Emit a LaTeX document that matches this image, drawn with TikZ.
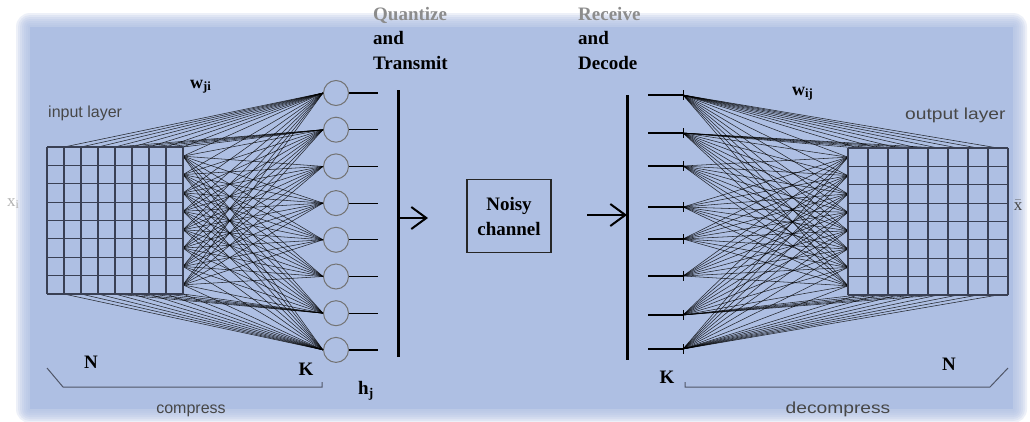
\documentclass[tikz,border=0pt]{standalone}
\usepackage{fontspec}
\setmainfont{Liberation Serif}
\setsansfont{Liberation Sans}
\usetikzlibrary{arrows.meta}
\definecolor{bgblue}{RGB}{174,191,227}
\definecolor{gridc}{RGB}{58,64,84}
\definecolor{brk}{RGB}{80,86,104}
\tikzset{
  wire/.style={black, line width=0.55pt, opacity=0.8},
  gridline/.style={gridc, line width=1.2pt},
  hid/.style={circle, draw=black!55, line width=1pt, minimum size=25pt, inner sep=0pt},
  outwire/.style={black, line width=1.2pt},
  barline/.style={black, line width=3pt},
  bigarrow/.style={black, line width=2pt, -{Straight Barb[length=15pt,width=22pt,line width=2pt]}},
  big/.style={font=\bfseries\fontsize{19}{24}\selectfont, inner sep=0pt},
  sans/.style={font=\sffamily\fontsize{16}{19}\selectfont, text=black!72, inner sep=0pt},
  brace/.style={brk, line width=1pt},
}
\begin{document}
\begin{tikzpicture}[x=1pt,y=-1pt]
\useasboundingbox (0,0) rectangle (1030,421);
% background with soft edges
\fill[white] (0,0) rectangle (1030,421);
\foreach \r in {14,12,...,2}
  \fill[bgblue, opacity=0.22, rounded corners=\r pt] (30-\r,27-\r) rectangle (1013+\r,409+\r);
\fill[bgblue] (30,27) rectangle (1013,409);

% ---------- left network ----------
\foreach \j in {1,...,8}
  \node[hid] (h\j) at (336,{93+(\j-1)*36.7}) {};
\foreach \i in {1,...,8} {
  \coordinate (L\i) at (183,{147+(\i-0.5)*18.375});
  \coordinate (LT\i) at ({47+\i*17},147);
  \coordinate (LB\i) at ({47+\i*17},294);
}
\foreach \i in {1,...,8}
  \foreach \j in {1,...,8}
    \draw[wire] (L\i) -- (h\j.west);
\foreach \i in {1,...,8} {
  \draw[wire] (LT\i) -- (h1.west);
  \draw[wire] (LB\i) -- (h8.west);
}
\foreach \i in {4,...,8} {
  \draw[wire] (LT\i) -- (h2.west);
  \draw[wire] (LB\i) -- (h7.west);
}
\foreach \i in {0,...,8} {
  \draw[gridline] ({47+\i*17},147) -- ({47+\i*17},294);
  \draw[gridline] (47,{147+\i*18.375}) -- (183,{147+\i*18.375});
}
\foreach \j in {1,...,8} {
  \coordinate (o\j) at (378,{93+(\j-1)*36.7});
  \draw[outwire] (h\j.east) -- (o\j);
}
\coordinate (b1t) at (398,90);
\coordinate (b1b) at (398,357);
\draw[barline] (b1t) -- (b1b);
\coordinate (a1s) at (398,218);
\coordinate (a1e) at (428,218);
\draw[bigarrow] (a1s) -- (a1e);

% ---------- channel ----------
\node[draw=black!85, line width=1.3pt, minimum width=84pt, minimum height=73pt,
      align=center, big, font=\bfseries\fontsize{19}{25}\selectfont] (nc) at (509,216) {Noisy\\channel};
\coordinate (a2s) at (587,215);
\coordinate (a2e) at (627,215);
\draw[bigarrow] (a2s) -- (a2e);
\coordinate (b2t) at (627,95);
\coordinate (b2b) at (627,360);
\draw[barline] (b2t) -- (b2b);

% ---------- right network ----------
\foreach \k/\y in {1/95,2/133,3/166,4/207,5/239,6/276,7/315,8/349} {
  \coordinate (r\k) at (683,\y);
  \coordinate (ri\k) at (648,\y);
  \draw[outwire] (ri\k) -- (r\k);
  \draw[black, line width=1pt] ([yshift=5pt]r\k) -- ([yshift=-5pt]r\k);
}
\foreach \i in {1,...,8} {
  \coordinate (R\i) at (848,{148+(\i-0.5)*18.375});
  \coordinate (RT\i) at ({848+\i*20-10},148);
  \coordinate (RB\i) at ({848+\i*20-10},295);
}
\foreach \i in {1,...,8}
  \foreach \k in {1,...,8}
    \draw[wire] (r\k) -- (R\i);
\foreach \i in {1,...,8} {
  \draw[wire] (RT\i) -- (r1);
  \draw[wire] (RB\i) -- (r8);
}
\foreach \i in {1,...,5} {
  \draw[wire] (RT\i) -- (r2);
  \draw[wire] (RB\i) -- (r7);
}
\foreach \i in {0,...,8} {
  \draw[gridline] ({848+\i*20},148) -- ({848+\i*20},295);
  \draw[gridline] (848,{148+\i*18.375}) -- (1008,{148+\i*18.375});
}

% ---------- brackets ----------
\coordinate (bl1) at (47,368);
\coordinate (bl2) at (63,387);
\coordinate (bl3) at (322,387);
\coordinate (bl4) at (322,382);
\draw[brace] (bl1) -- (bl2) -- (bl3) -- (bl4);
\coordinate (br1) at (685,382);
\coordinate (br2) at (685,387);
\coordinate (br3) at (990,387);
\coordinate (br4) at (1008,368);
\draw[brace] (br1) -- (br2) -- (br3) -- (br4);

% ---------- labels ----------
\node[big, anchor=base west, text=black!45] (q1) at (373,20) {Quantize};
\node[big, anchor=base west] (q2) at (373,44) {and};
\node[big, anchor=base west] (q3) at (373,69) {Transmit};
\node[big, anchor=base west, text=black!45] (d1) at (578,20) {Receive};
\node[big, anchor=base west] (d2) at (578,44) {and};
\node[big, anchor=base west] (d3) at (578,69) {Decode};

\node[sans, anchor=base west] (il) at (48,117) {input layer};
\node[sans, anchor=base west] (ol) at (905,119) {\scalebox{1.2}[1]{output layer}};
\node[sans, anchor=base] (cp) at (191,413) {compress};
\node[sans, anchor=base] (dc) at (838,413) {\scalebox{1.2}[1]{decompress}};

\node[inner sep=0pt, anchor=base west, font=\bfseries\fontsize{18}{20}\selectfont] (wl) at (190,88) {w\textsubscript{ji}};
\node[inner sep=0pt, anchor=base west, font=\bfseries\fontsize{18}{20}\selectfont] (wr) at (792,95) {w\textsubscript{ij}};
\node[big, anchor=base] (nl) at (91,368) {N};
\node[big, anchor=base] (kl) at (306,375) {K};
\node[big, anchor=base] (kr) at (667,383) {K};
\node[big, anchor=base] (nr) at (949,370) {N};
\node[inner sep=0pt, anchor=base west, font=\bfseries\fontsize{19}{22}\selectfont] (hj) at (358,394) {h\textsubscript{j}};
\node[inner sep=0pt, anchor=base west, text=black!30, font=\fontsize{17}{20}\selectfont] (xi) at (7,206) {x\textsubscript{i}};
\node[inner sep=0pt, anchor=base, text=black!72, font=\fontsize{17}{20}\selectfont] (xh) at (1018,210) {$\bar{\mbox{x}}$};
\end{tikzpicture}
\end{document}
